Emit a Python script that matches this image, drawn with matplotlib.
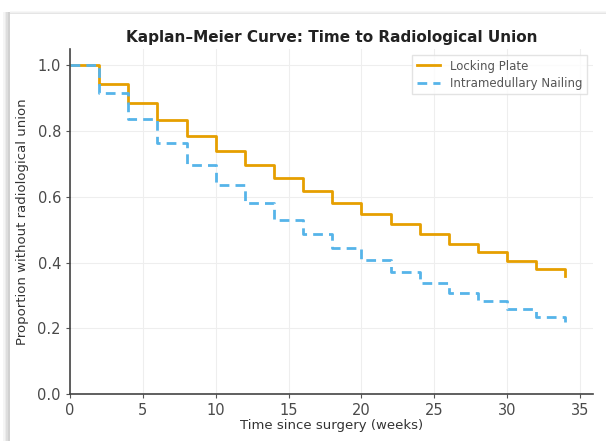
import matplotlib
matplotlib.use("Agg")
import matplotlib.pyplot as plt
from matplotlib.patches import Rectangle

weeks = [0, 2, 4, 6, 8, 10, 12, 14, 16, 18, 20, 22, 24, 26, 28, 30, 32, 34]
locking_plate = [1.0, 0.942, 0.886, 0.834, 0.785, 0.740, 0.696, 0.656, 0.618,
                 0.582, 0.549, 0.517, 0.486, 0.458, 0.431, 0.405, 0.381, 0.359]
im_nailing = [1.0, 0.915, 0.836, 0.763, 0.696, 0.637, 0.582, 0.531, 0.488,
              0.443, 0.407, 0.371, 0.338, 0.308, 0.282, 0.258, 0.235, 0.219]
xticks = [0, 5, 10, 15, 20, 25, 30, 35]
yticks = [0.0, 0.2, 0.4, 0.6, 0.8, 1.0]

fig = plt.figure(figsize=(6.06, 4.41), dpi=100)
W, H = 606, 441

# screenshot-like frame shadow
for i, a in enumerate([0.04, 0.08, 0.13, 0.18]):
    fig.patches.append(Rectangle(((3 + i * 1.7) / W, 0), 1.7 / W, (H - 12) / H,
                                 transform=fig.transFigure, color='black', alpha=a, lw=0))
for i, a in enumerate([0.03, 0.06, 0.10]):
    fig.patches.append(Rectangle((10 / W, (H - 12 - i) / H), (W - 10) / W, 1 / H,
                                 transform=fig.transFigure, color='black', alpha=a, lw=0))

ax = fig.add_axes([70 / W, 1 - 394 / H, (593 - 70) / W, (394 - 49) / H])
ax.plot(weeks, locking_plate, drawstyle='steps-post', color='#E69F00', lw=2,
        label='Locking Plate')
ax.plot(weeks, im_nailing, drawstyle='steps-post', color='#56B4E9', lw=2,
        ls=(0, (3.5, 2.2)), label='Intramedullary Nailing')

ax.set_xlim(0, 35.9)
ax.set_ylim(0, 1.05)
ax.set_xticks(xticks)
ax.set_yticks(yticks)
ax.set_yticklabels([f"{v:.1f}" for v in yticks])
ax.grid(True, color='#EEEEEE', lw=0.8)
ax.set_axisbelow(True)
for s in ['top', 'right']:
    ax.spines[s].set_visible(False)
for s in ['left', 'bottom']:
    ax.spines[s].set_color('#444444')
    ax.spines[s].set_linewidth(1.2)
ax.tick_params(colors='#555555', labelcolor='#4a4a4a', labelsize=10.5, length=3)
ax.set_xlabel('Time since surgery (weeks)', fontsize=9.5, color='#333333', labelpad=1)
ax.set_ylabel('Proportion without radiological union', fontsize=9.5, color='#333333', labelpad=6)
ax.set_title('Kaplan\u2013Meier Curve: Time to Radiological Union', fontsize=11,
             fontweight='bold', color='#222222', pad=5)
leg = ax.legend(loc='upper right', fontsize=8.5, frameon=True, fancybox=False,
                edgecolor='#DDDDDD', labelcolor='#555555', borderpad=0.4,
                labelspacing=0.35, bbox_to_anchor=(1.0, 1.0), borderaxespad=0.5)

fig.savefig('out.png', dpi=100)
